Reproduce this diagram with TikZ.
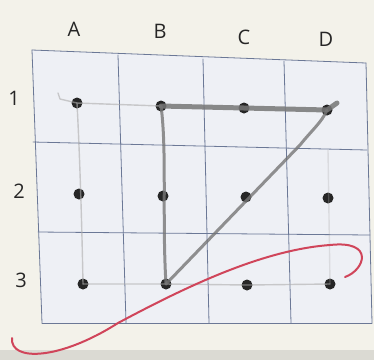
\documentclass[tikz,border=0pt]{standalone}
\usepackage{fontspec}
\setmainfont{Open Sans}
\definecolor{paper}{HTML}{F3F2EA}
\definecolor{cellfill}{HTML}{EEF0F5}
\definecolor{gridblue}{HTML}{6B7896}
\definecolor{pencil}{HTML}{767676}
\definecolor{redpen}{HTML}{D0455A}
\begin{document}
\begin{tikzpicture}[x=1pt, y=-1pt, line join=round, line cap=round,
	dot/.style={circle, fill=black!85, inner sep=0pt, minimum size=11pt},
	lbl/.style={font=\fontsize{20}{22}\selectfont, text=black!85},
	gridline/.style={draw=gridblue, line width=0.8pt},
	heavy/.style={draw=pencil, line width=5pt, opacity=0.85},
	soft/.style={draw=pencil, line width=3pt, opacity=0.8},
	faint/.style={draw=pencil!60, line width=1.4pt, opacity=0.6},
	redline/.style={draw=redpen, line width=2pt}]
	\useasboundingbox (0,0) rectangle (374,360);
	\fill[paper] (0,0) rectangle (374,360);
	\fill[black!10!paper] (0,350) rectangle (374,360);
	\fill[cellfill] (32,50) -- (366,63) -- (372,323) -- (42,323) -- cycle;
	% grid
	\foreach \xa/\ya/\xb/\yb in {32/50/366/63, 33/142/367/150, 38/232/370/235, 42/323/372/323,
		32/50/42/323, 118/55/126/323, 203/59/209/323, 284/61/291/323, 366/63/372/323}
		\draw[gridline] (\xa,\ya) -- (\xb,\yb);
	% labels
	\node[lbl] (colA) at (74,29) {A};
	\node[lbl] (colB) at (160,31) {B};
	\node[lbl] (colC) at (244,37) {C};
	\node[lbl] (colD) at (326,39) {D};
	\node[lbl] (row1) at (14,98) {1};
	\node[lbl] (row2) at (19,191) {2};
	\node[lbl] (row3) at (21,280) {3};
	% dots
	\node[dot] (A1) at (77,103) {};
	\node[dot] (B1) at (161,106) {};
	\node[dot] (C1) at (244,108) {};
	\node[dot] (D1) at (327,110) {};
	\node[dot] (A2) at (79,194) {};
	\node[dot] (B2) at (163,196) {};
	\node[dot] (C2) at (246,197) {};
	\node[dot] (D2) at (328,198) {};
	\node[dot] (A3) at (83,284) {};
	\node[dot] (B3) at (166,284) {};
	\node[dot] (C3) at (247,285) {};
	\node[dot] (D3) at (330,284) {};
	% pencil
	\coordinate (hook) at (58,93);
	\coordinate (tail) at (337,103);
	\draw[faint] (hook) -- (60,99) -- (A1.center) -- (B1.center);
	\draw[faint] (A1.center) .. controls (80,160) and (82,230) .. (A3.center);
	\draw[faint] (A3.center) -- (B3.center) -- (C3.center) -- (D3.center);
	\draw[faint, opacity=0.3] (328,150) -- (D3.center);
	\draw[heavy] (B1.center) -- (D1.center) -- (tail);
	\draw[soft] (D1.center) .. controls (322,122) and (312,130) .. (300,145) -- (B3.center);
	\draw[soft] (B1.center) .. controls (167,150) and (162,220) .. (B3.center);
	% red pen
	\coordinate (redstart) at (12,338);
	\coordinate (redend) at (345,277);
	\draw[redline] (redstart) .. controls (10,362) and (60,360) .. (118,323)
		.. controls (180,290) and (260,250) .. (330,245)
		.. controls (375,240) and (365,270) .. (redend);
\end{tikzpicture}
\end{document}
